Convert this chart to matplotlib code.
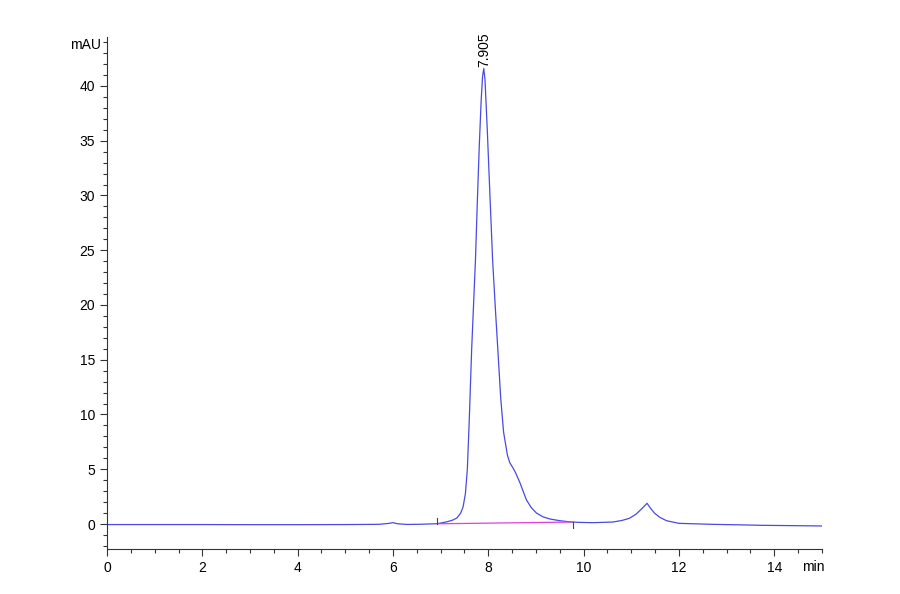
import matplotlib
matplotlib.use('Agg')
import matplotlib.pyplot as plt
from matplotlib.ticker import MultipleLocator

plt.rcParams['font.family'] = ['Liberation Sans Narrow', 'Liberation Sans', 'DejaVu Sans']

# signal (time in min, absorbance in mAU)
time = [0.0, 1.0, 2.0, 3.0, 4.0, 5.0, 5.7, 5.9, 6.0, 6.1, 6.3, 6.6, 6.93,
        7.13, 7.25, 7.34, 7.42, 7.47, 7.52, 7.56, 7.60, 7.65, 7.69, 7.73,
        7.77, 7.81, 7.85, 7.88, 7.905, 7.93, 7.95, 7.98, 8.02, 8.09, 8.15,
        8.20, 8.26, 8.32, 8.40, 8.45, 8.52, 8.57, 8.62, 8.66, 8.73, 8.80,
        8.90, 9.01, 9.15, 9.29, 9.5, 9.7, 9.9, 10.2, 10.61, 10.8, 10.96,
        11.1, 11.22, 11.33, 11.41, 11.49, 11.6, 11.74, 12.0, 12.7, 13.2,
        13.75, 14.4, 15.0]
signal = [-0.05, -0.05, -0.05, -0.06, -0.06, -0.05, -0.03, 0.05, 0.12, 0.02,
          -0.04, -0.02, 0.03,
          0.2, 0.35, 0.55, 1.0, 1.55, 2.8, 5.0, 9.5, 15.9, 20.0, 24.1,
          29.5, 34.5, 38.7, 40.9, 41.6, 40.6, 38.7, 35.8, 31.5, 24.1, 19.5,
          15.9, 11.5, 8.4, 6.3, 5.6, 5.1, 4.7, 4.2, 3.8, 3.0, 2.2,
          1.5, 1.0, 0.65, 0.46, 0.3, 0.2, 0.15, 0.12, 0.18, 0.32, 0.52,
          0.9, 1.4, 1.89, 1.4, 0.98, 0.6, 0.3, 0.06, -0.03, -0.07,
          -0.12, -0.15, -0.18]

# integration baseline of the main peak
base_t = [6.93, 9.78]
base_v = [0.02, 0.18]

peak_rt = 7.905
peak_height = 41.6

fig = plt.figure(figsize=(9, 5.94), dpi=100)
ax = fig.add_axes([0.1189, 0.0758, 0.9133 - 0.1189, 0.9377 - 0.0758])

ax.plot(time, signal, color='#4a4ae0', linewidth=0.9)
ax.plot(base_t, base_v, color='#e040e0', linewidth=0.9)
# start / end marks of the integration
ax.plot([base_t[0], base_t[0]], [base_v[0], base_v[0] + 0.5], color='#444444', linewidth=0.8)
ax.plot([base_t[1], base_t[1]], [base_v[1], base_v[1] - 0.5], color='#444444', linewidth=0.8)

ax.annotate('{:.3f}'.format(peak_rt), xy=(peak_rt, peak_height), xytext=(0, 1),
            textcoords='offset points', rotation=90, ha='center', va='bottom',
            fontsize=10)

ax.set_xlim(0, 15)
ax.set_ylim(-2.28, 44.47)
ax.xaxis.set_major_locator(MultipleLocator(2))
ax.xaxis.set_minor_locator(MultipleLocator(0.5))
ax.yaxis.set_major_locator(MultipleLocator(5))
ax.yaxis.set_minor_locator(MultipleLocator(1))
ax.tick_params(which='major', length=5, width=0.8, color='#333333', labelsize=10)
ax.tick_params(which='minor', length=3, width=0.8, color='#333333')

for side in ['top', 'right']:
    ax.spines[side].set_visible(False)
for side in ['left', 'bottom']:
    ax.spines[side].set_color('#333333')
    ax.spines[side].set_linewidth(0.8)

fig.text(86 / 900, 1 - 45 / 594, 'mAU', ha='center', va='center', fontsize=10)
fig.text(813 / 900, 1 - 567 / 594, 'min', ha='center', va='center', fontsize=10)

fig.savefig('out.png', dpi=100)
